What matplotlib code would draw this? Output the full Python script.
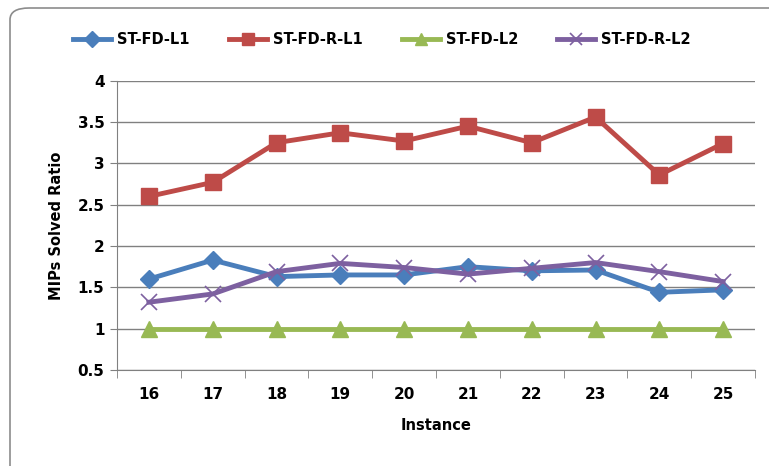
import numpy as np
import matplotlib
matplotlib.use('Agg')
import matplotlib.pyplot as plt
from matplotlib.patches import FancyBboxPatch

instances = ['16', '17', '18', '19', '20', '21', '22', '23', '24', '25']
st_fd_l1 = [1.60, 1.83, 1.63, 1.65, 1.65, 1.75, 1.70, 1.71, 1.44, 1.47]
st_fd_r_l1 = [2.60, 2.77, 3.25, 3.37, 3.27, 3.45, 3.25, 3.56, 2.86, 3.24]
st_fd_l2 = [1.0, 1.0, 1.0, 1.0, 1.0, 1.0, 1.0, 1.0, 1.0, 1.0]
st_fd_r_l2 = [1.32, 1.42, 1.69, 1.79, 1.74, 1.66, 1.73, 1.80, 1.69, 1.57]
yticks = [0.5, 1, 1.5, 2, 2.5, 3, 3.5, 4]

plt.rcParams['font.family'] = ['DejaVu Sans']
plt.rcParams['font.weight'] = 'bold'

fig = plt.figure(figsize=(7.69, 4.66), dpi=100)
fig.patch.set_facecolor('white')

# rounded chart frame
frame = FancyBboxPatch((10 / 769, -0.1), 1.2, 1.1 - 8 / 466,
                       boxstyle='round,pad=0,rounding_size=0.025',
                       transform=fig.transFigure, facecolor='none',
                       edgecolor='#8c8c8c', linewidth=1.2)
fig.patches.append(frame)

ax = fig.add_axes([117 / 769, 1 - 370 / 466, 638 / 769, 289.3 / 466])
x = np.arange(len(instances))

lw = 3.5
ax.plot(x, st_fd_l1, color='#4A7EBB', lw=lw, marker='D', ms=9.5,
        label='ST-FD-L1', zorder=4)
ax.plot(x, st_fd_r_l1, color='#BE4B48', lw=lw, marker='s', ms=11,
        label='ST-FD-R-L1', zorder=3)
ax.plot(x, st_fd_l2, color='#98B954', lw=lw, marker='^', ms=11,
        label='ST-FD-L2', zorder=3)
ax.plot(x, st_fd_r_l2, color='#7D60A0', lw=lw, marker='x', ms=11,
        mew=1.2, label='ST-FD-R-L2', zorder=5)

ax.set_xlim(-0.5, len(instances) - 0.5)
ax.set_ylim(0.5, 4)
ax.set_yticks(yticks)
ax.set_yticklabels(['0.5', '1', '1.5', '2', '2.5', '3', '3.5', '4'])
ax.set_xticks(x)
ax.set_xticklabels(instances)
ax.set_xticks(np.arange(-0.5, len(instances)), minor=True)
ax.tick_params(axis='x', which='major', length=0, pad=12, labelsize=11)
ax.tick_params(axis='x', which='minor', length=6, color='#808080',
               direction='out')
ax.tick_params(axis='y', length=5, color='#808080', labelsize=11, pad=4)

ax.grid(axis='y', color='#808080', lw=1)
ax.set_axisbelow(True)
for s in ['top', 'right']:
    ax.spines[s].set_visible(False)
for s in ['left', 'bottom']:
    ax.spines[s].set_color('#808080')

ax.set_xlabel('Instance', fontsize=10.5, fontweight='bold', labelpad=12)
ax.set_ylabel('MIPs Solved Ratio', fontsize=10.5, fontweight='bold', labelpad=10)

fig.legend(loc='center', bbox_to_anchor=(382 / 769, 1 - 40 / 466), ncol=4,
           frameon=False, fontsize=10.5, handlelength=2.6, columnspacing=2.7,
           handletextpad=0.4, markerscale=0.85)

fig.savefig('out.png', dpi=100)
